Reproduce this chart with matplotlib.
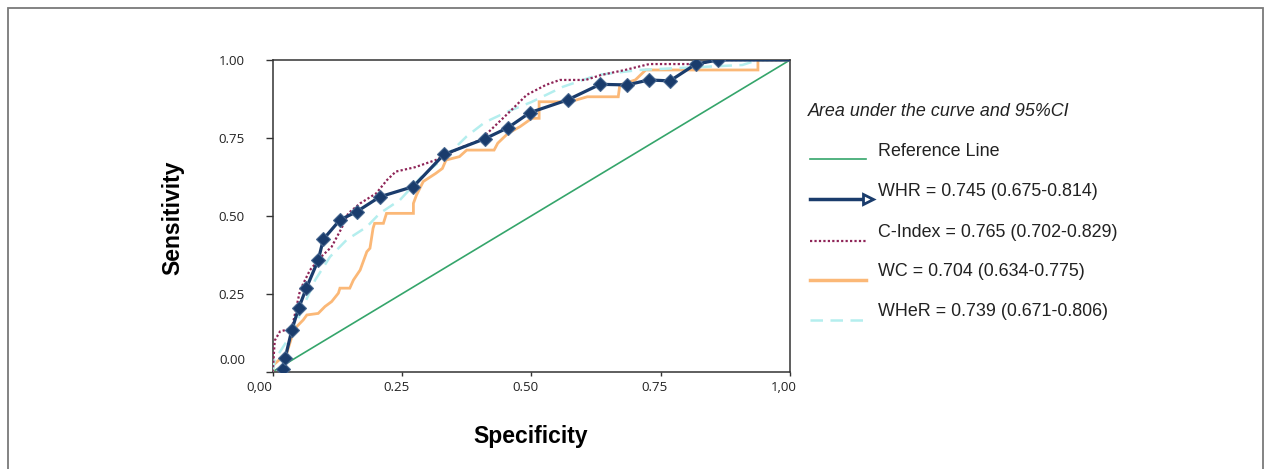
import numpy as np
import matplotlib
matplotlib.use("Agg")
import matplotlib.pyplot as plt
from matplotlib.lines import Line2D
from matplotlib.patches import Rectangle
import matplotlib.transforms as mtrans

# ---------------- data ----------------
ref_x = [0.0, 1.0]
ref_y = [0.0, 1.0]

whr_x = [0.020, 0.024, 0.037, 0.050, 0.065, 0.088, 0.098, 0.130, 0.162, 0.207, 0.272,
         0.331, 0.411, 0.455, 0.497, 0.570, 0.633, 0.685, 0.727, 0.768, 0.818, 0.861,
         0.940, 1.0]
whr_y = [0.010, 0.043, 0.134, 0.203, 0.268, 0.358, 0.425, 0.487, 0.513, 0.561, 0.594,
         0.697, 0.748, 0.783, 0.831, 0.872, 0.922, 0.920, 0.936, 0.933, 0.987, 1.0,
         1.0, 1.0]

cidx_x = [0.0, 0.004, 0.014, 0.037, 0.053, 0.072, 0.094, 0.114, 0.133, 0.146, 0.169,
          0.200, 0.221, 0.238, 0.275, 0.315, 0.361, 0.401, 0.455, 0.491, 0.528, 0.555,
          0.605, 0.635, 0.681, 0.728, 0.821, 0.861, 0.888, 1.0]
cidx_y = [0.0, 0.100, 0.129, 0.139, 0.262, 0.326, 0.369, 0.401, 0.460, 0.508, 0.540,
          0.572, 0.615, 0.642, 0.656, 0.679, 0.717, 0.743, 0.829, 0.888, 0.920, 0.936,
          0.936, 0.952, 0.968, 0.987, 0.987, 1.0, 1.0, 1.0]

wc_x = [0.0, 0.001, 0.027, 0.037, 0.046, 0.059, 0.066, 0.088, 0.101, 0.114,
        0.127, 0.130, 0.149, 0.156, 0.169, 0.182, 0.188, 0.194, 0.197, 0.214,
        0.220, 0.272, 0.272, 0.278, 0.291, 0.315, 0.328, 0.335, 0.361, 0.375,
        0.428, 0.435, 0.455, 0.478, 0.501, 0.515, 0.515, 0.575, 0.608, 0.668,
        0.671, 0.701, 0.721, 0.938, 0.938, 1.0]
wc_y = [0.0, 0.021, 0.059, 0.112, 0.144, 0.166, 0.182, 0.187, 0.209, 0.225,
        0.252, 0.268, 0.268, 0.294, 0.326, 0.385, 0.396, 0.460, 0.476, 0.476,
        0.508, 0.508, 0.540, 0.567, 0.610, 0.636, 0.652, 0.679, 0.690, 0.711,
        0.711, 0.733, 0.765, 0.786, 0.813, 0.813, 0.866, 0.866, 0.882, 0.882,
        0.920, 0.936, 0.968, 0.968, 1.0, 1.0]

wher_x = [0.0, 0.004, 0.037, 0.059, 0.082, 0.111, 0.143, 0.182, 0.207, 0.246, 0.290,
          0.335, 0.375, 0.410, 0.455, 0.500, 0.561, 0.628, 0.708, 0.908, 0.938, 1.0]
wher_y = [0.0, 0.038, 0.123, 0.209, 0.294, 0.369, 0.423, 0.465, 0.508, 0.551, 0.630,
          0.690, 0.755, 0.800, 0.835, 0.865, 0.914, 0.952, 0.968, 0.984, 1.0, 1.0]

xtick_vals = [0.0, 0.25, 0.5, 0.75, 1.0]
xtick_labels = ["0,00", "0.25", "0.50", "0.75", "1,00"]
ytick_vals = [0.0, 0.25, 0.5, 0.75, 1.0]
ytick_labels = ["0.00", "0.25", "0.50", "0.75", "1.00"]

legend_title = "Area under the curve and 95%CI"
legend_labels = ["Reference Line",
                 "WHR = 0.745 (0.675-0.814)",
                 "C-Index = 0.765 (0.702-0.829)",
                 "WC = 0.704 (0.634-0.775)",
                 "WHeR = 0.739 (0.671-0.806)"]

# ---------------- styles ----------------
c_ref = "#35a56b"
c_whr = "#1a3c6c"
c_cidx = "#8e2457"
c_wc = "#fbb877"
c_wher = "#b4eeee"

W, H = 1269, 469
fig = plt.figure(figsize=(W / 100, H / 100), dpi=100)
fig.patch.set_facecolor("white")

def fx(px):
    return px / W

def fy(py):
    return 1 - py / H

ax = fig.add_axes([fx(272.7), fy(371.7), fx(790) - fx(272.7), fy(60) - fy(371.7)])
ax.set_xlim(0, 1)
ax.set_ylim(0, 1)

ax.plot(ref_x, ref_y, color=c_ref, lw=1.2, zorder=2)
ax.plot(wc_x, wc_y, color=c_wc, lw=2.0, zorder=3, solid_joinstyle="miter")
ax.plot(wher_x, wher_y, color=c_wher, lw=1.8, ls=(0, (5, 3)), zorder=4)
ax.plot(cidx_x, cidx_y, color=c_cidx, lw=1.6, ls=(0, (1, 1)), zorder=5)
ax.plot(whr_x, whr_y, color=c_whr, lw=2.3, zorder=6,
        marker="D", markersize=7.5, markevery=slice(0, -2),
        markerfacecolor=c_whr, markeredgecolor="#46668f", markeredgewidth=0.8)

for s in ax.spines.values():
    s.set_color("#333333")
    s.set_linewidth(1.1)

ax.set_xticks(xtick_vals)
ax.set_xticklabels(xtick_labels, family="Open Sans", fontsize=9.5, color="#222222")
ax.set_yticks(ytick_vals)
ax.set_yticklabels(ytick_labels, family="Open Sans", fontsize=9.5, color="#222222")
ax.tick_params(axis="x", direction="out", length=3, width=1, pad=4, colors="#333333")
ax.tick_params(axis="y", direction="out", length=5, width=1, pad=15, colors="#333333")
for i, lab in enumerate(ax.get_xticklabels()):
    dx = -13 if i == 0 else -6
    lab.set_color("#222222")
    lab.set_transform(lab.get_transform() + mtrans.ScaledTranslation(dx / 100, 0, fig.dpi_scale_trans))
for i, lab in enumerate(ax.get_yticklabels()):
    lab.set_color("#222222")
    if i == 0:
        lab.set_transform(lab.get_transform() + mtrans.ScaledTranslation(0, 13 / 100, fig.dpi_scale_trans))

# axis titles
fig.text(fx(531), fy(436), "Specificity", ha="center", va="center",
         family="Liberation Sans", fontweight="bold", fontsize=16.5)
fig.text(fx(173), fy(218), "Sensitivity", ha="center", va="center", rotation=90,
         family="Liberation Sans", fontweight="bold", fontsize=16.5)

# legend (drawn manually in figure coords)
fig.text(fx(808), fy(112), legend_title, ha="left", va="center",
         family="Liberation Sans", style="italic", fontsize=12.9, color="#222222")
row_text_y = [152, 192, 232, 272, 312]
row_handle_y = [159, 199, 241, 280, 320]
handle_styles = [
    dict(color=c_ref, lw=1.2),
    dict(color=c_whr, lw=2.5),
    dict(color=c_cidx, lw=1.6, ls=(0, (1, 1))),
    dict(color=c_wc, lw=2.5),
    dict(color=c_wher, lw=1.8, ls=(0, (5, 3))),
]
for lab, ty, hy, st in zip(legend_labels, row_text_y, row_handle_y, handle_styles):
    fig.add_artist(Line2D([fx(810), fx(866)], [fy(hy), fy(hy)], transform=fig.transFigure, **st))
    fig.text(fx(878), fy(ty), lab, ha="left", va="center",
             family="Liberation Sans", fontsize=12.9, color="#222222")
# arrow marker at end of WHR handle
fig.add_artist(Line2D([fx(868)], [fy(row_handle_y[1])], transform=fig.transFigure,
                      marker=">", markersize=7, markerfacecolor="white",
                      markeredgecolor=c_whr, markeredgewidth=2, lw=0))

# outer frame
fig.add_artist(Rectangle((fx(8), -0.02), fx(1263) - fx(8), fy(8) + 0.02,
                         transform=fig.transFigure, fill=False,
                         edgecolor="#7a7a7a", lw=1.3))

fig.savefig("out.png", dpi=100)
